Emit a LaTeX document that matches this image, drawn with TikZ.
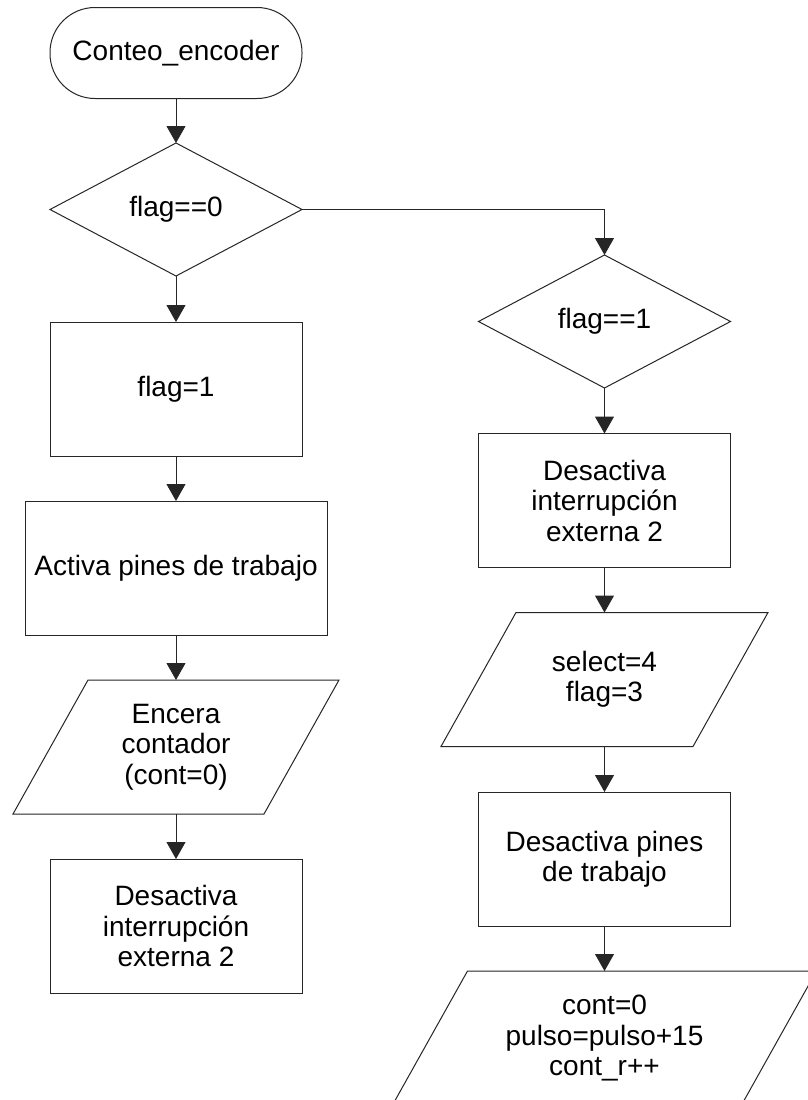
\documentclass[tikz,border=0pt]{standalone}
\usepackage{fontspec}
\setmainfont{Liberation Sans}
\usetikzlibrary{shapes.geometric,arrows.meta,calc}
\begin{document}
\begin{tikzpicture}[x=1pt,y=-1pt,
  every node/.style={font=\fontsize{28}{30.5}\selectfont, align=center, inner sep=0pt, outer sep=0pt, text=black},
  base/.style={draw=black!85, line width=1pt},
  term/.style={base, rectangle, rounded corners=45pt, minimum width=252pt, minimum height=91pt},
  decision/.style={base, diamond, minimum width=252pt, minimum height=133pt},
  proc/.style={base, rectangle, minimum height=134pt},
  io/.style={rectangle, minimum height=134pt},
  ioframe/.style={draw=black!85, line width=1pt, line join=miter},
  conn/.style={draw=black!85, line width=1pt, -{Triangle[width=19pt,length=17pt]}}
]
\useasboundingbox (0,0) rectangle (807,1100);
\fill[white] (0,0) rectangle (807,1100);

\node[term] (start) at (176,53) {Conteo\_encoder};
\node[decision] (d1) at (176,209.5) {flag==0};
\node[proc, minimum width=252pt] (r1) at (176,389) {flag=1};
\node[proc, minimum width=302pt] (r2) at (176,568) {Activa pines de trabajo};
\node[io, minimum width=326pt] (p1) at (176,747) {Encera\\contador\\(cont=0)};
\node[proc, minimum width=252pt] (r3) at (176,926) {Desactiva\\interrupción\\externa 2};

\node[decision] (d2) at (604.5,321.5) {flag==1};
\node[proc, minimum width=252pt] (r4) at (604.5,500.5) {Desactiva\\interrupción\\externa 2};
\node[io, minimum width=327pt] (p2) at (604.5,679.5) {select=4\\flag=3};
\node[proc, minimum width=252pt] (r5) at (604.5,859) {Desactiva pines\\de trabajo};
\node[io, minimum width=424pt] (p3) at (604.5,1038) {cont=0\\pulso=pulso+15\\cont\_r++};

\foreach \p in {p1,p2,p3}{
  \draw[ioframe] (\p.south west) -- ($(\p.north west)+(75,0)$) -- (\p.north east)
    -- ($(\p.south east)-(75,0)$) -- cycle;
}

\draw[conn] (start) -- (d1);
\draw[conn] (d1) -- (r1);
\draw[conn] (r1) -- (r2);
\draw[conn] (r2) -- (p1);
\draw[conn] (p1) -- (r3);
\draw[conn] (d1.east) -| (d2.north);
\draw[conn] (d2) -- (r4);
\draw[conn] (r4) -- (p2);
\draw[conn] (p2) -- (r5);
\draw[conn] (r5) -- (p3);
\end{tikzpicture}
\end{document}
